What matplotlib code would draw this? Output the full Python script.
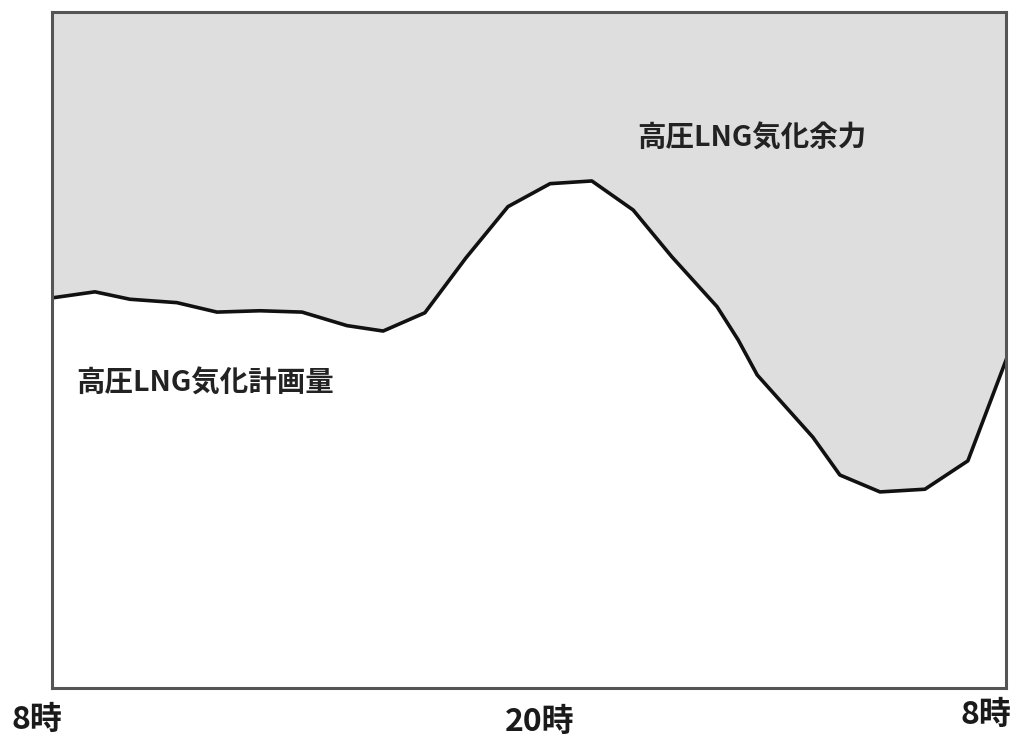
import matplotlib
matplotlib.use("Agg")
import matplotlib.pyplot as plt
import matplotlib.transforms as mtransforms

plt.rcParams['font.family'] = ['Noto Sans CJK JP', 'DejaVu Sans']

# hours after 8時 and planned vaporisation (share of capacity, %)
hours = [0.00, 1.08, 1.96, 3.14, 4.15, 5.23, 6.29, 7.42, 8.33, 9.38,
         10.41, 11.47, 12.53, 13.58, 14.62, 15.59, 16.73, 17.26, 17.74,
         19.14, 19.82, 20.83, 21.96, 23.04, 24.00]
plan = [57.7, 58.6, 57.5, 57.0, 55.6, 55.8, 55.6, 53.6, 52.8, 55.5,
        63.6, 71.2, 74.6, 75.0, 70.7, 63.8, 56.4, 51.5, 46.3,
        37.1, 31.5, 29.0, 29.4, 33.6, 48.5]
capacity = 100

tick_pos = [0, 12, 24]
tick_labels = ["8時", "20時", "8時"]
label_spare = "高圧LNG気化余力"
label_plan = "高圧LNG気化計画量"

fig = plt.figure(figsize=(10.16, 7.38), dpi=100)
ax = fig.add_axes([0.0512, 0.0678, 0.939, 0.916])

ax.fill_between(hours, plan, capacity, color="#dedede", lw=0)
ax.plot(hours, plan, color="#111111", lw=2.6, solid_joinstyle="round")

ax.set_xlim(0, 24)
ax.set_ylim(0, capacity)
ax.set_yticks([])
ax.set_xticks(tick_pos)
ax.set_xticklabels(tick_labels, fontsize=23, fontweight="bold", color="#1a1a1a")
ax.tick_params(axis="x", length=0, pad=0)
for sp in ax.spines.values():
    sp.set_color("#555555")
    sp.set_linewidth(2.2)

# nudge the tick labels the way the original has them
shifts = [(-15, -32), (11, -34), (-20, -27)]
for lab, (dx, dy) in zip(ax.get_xticklabels(), shifts):
    lab.set_verticalalignment("center")
    off = mtransforms.ScaledTranslation(dx / 100, dy / 100, fig.dpi_scale_trans)
    lab.set_transform(lab.get_transform() + off)

ax.text(17.6, 81.3, label_spare, fontsize=20.5, fontweight="bold",
        color="#222222", ha="center", va="center")
ax.text(3.85, 45.0, label_plan, fontsize=20.5, fontweight="bold",
        color="#222222", ha="center", va="center")

fig.savefig("out.png", dpi=100)
